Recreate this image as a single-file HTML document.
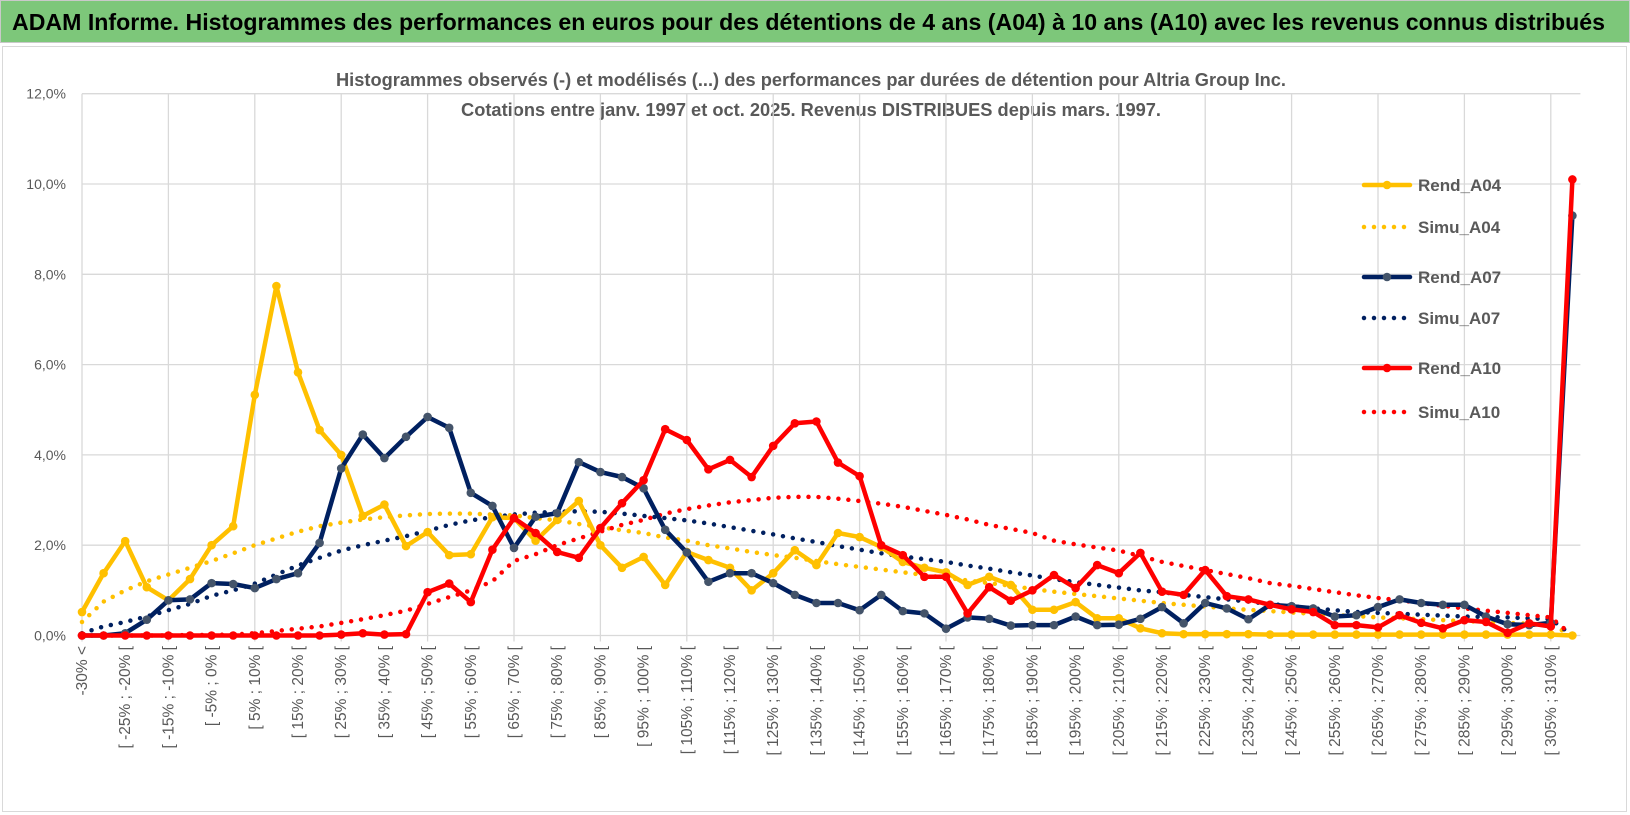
<!DOCTYPE html>
<html><head><meta charset="utf-8"><style>
html,body{margin:0;padding:0;background:#fff;}
svg{display:block;font-family:"Liberation Sans",sans-serif;}
</style></head><body>
<svg id="chart" width="1630" height="815" viewBox="0 0 1630 815">
<rect x="0" y="0" width="1630" height="815" fill="#fff"/>
<rect x="0.5" y="0.5" width="1629" height="42" fill="#7DC77A" stroke="#c9c9c9"/>
<text x="12" y="30" font-size="23" font-weight="bold" fill="#000" textLength="1593" lengthAdjust="spacingAndGlyphs">ADAM Informe. Histogrammes des performances en euros pour des détentions de 4 ans (A04) à 10 ans (A10) avec les revenus connus distribués</text>
<rect x="2.5" y="46.5" width="1624" height="765" fill="none" stroke="#d9d9d9"/>
<text x="811" y="86" font-size="18" font-weight="bold" fill="#595959" text-anchor="middle" textLength="950" lengthAdjust="spacingAndGlyphs">Histogrammes observés (-) et modélisés (...) des performances par durées de détention pour Altria Group Inc.</text>
<text x="811" y="116" font-size="18" font-weight="bold" fill="#595959" text-anchor="middle" textLength="700" lengthAdjust="spacingAndGlyphs">Cotations entre janv. 1997 et oct. 2025.  Revenus DISTRIBUES depuis mars. 1997.</text>
<g id="grid"></g><g id="yaxis"></g><g id="xaxis"></g><g id="series"></g><g id="legend"></g>
</svg>
<script>
const yTicks=[0,2,4,6,8,10,12];
const yTickLabels=["0,0%","2,0%","4,0%","6,0%","8,0%","10,0%","12,0%"];
const categories=["-30% <"];
for(let a=-30;a<=310;a+=5){categories.push("[ "+a+"% ; "+(a+5)+"% [");}
categories[69]="> 310%";
const rendA04=[0.52,1.38,2.09,1.07,0.78,1.25,2.0,2.42,5.33,7.74,5.83,4.55,4.0,2.65,2.9,1.98,2.29,1.78,1.8,2.62,2.6,2.1,2.56,2.98,2.0,1.5,1.74,1.12,1.85,1.67,1.5,1.0,1.38,1.89,1.56,2.27,2.18,1.96,1.63,1.5,1.4,1.12,1.3,1.12,0.57,0.57,0.74,0.38,0.38,0.16,0.05,0.03,0.03,0.03,0.03,0.02,0.02,0.02,0.02,0.02,0.02,0.02,0.02,0.02,0.02,0.02,0.02,0.02,0.02,0];
const simuA04=[0.3,0.75,1.0,1.2,1.35,1.5,1.65,1.82,2.0,2.15,2.3,2.42,2.5,2.57,2.62,2.66,2.69,2.7,2.7,2.68,2.66,2.6,2.55,2.47,2.4,2.33,2.27,2.17,2.1,2.0,1.93,1.85,1.78,1.72,1.65,1.58,1.52,1.46,1.4,1.34,1.28,1.22,1.16,1.1,1.03,0.97,0.92,0.87,0.82,0.77,0.72,0.68,0.64,0.6,0.57,0.54,0.51,0.48,0.45,0.43,0.4,0.38,0.36,0.34,0.32,0.3,0.28,0.26,0.24,0];
const rendA07=[0,0,0.05,0.35,0.78,0.8,1.16,1.14,1.05,1.25,1.38,2.05,3.7,4.45,3.93,4.4,4.84,4.6,3.16,2.87,1.94,2.63,2.71,3.84,3.62,3.51,3.26,2.34,1.84,1.19,1.38,1.38,1.16,0.9,0.72,0.72,0.56,0.9,0.54,0.49,0.15,0.4,0.37,0.22,0.23,0.23,0.42,0.23,0.24,0.37,0.63,0.27,0.72,0.6,0.36,0.68,0.65,0.6,0.42,0.45,0.63,0.8,0.72,0.68,0.68,0.42,0.25,0.23,0.28,9.3];
const simuA07=[0.05,0.2,0.3,0.42,0.56,0.7,0.88,1.0,1.15,1.35,1.55,1.72,1.88,2.0,2.1,2.2,2.32,2.45,2.55,2.62,2.68,2.72,2.74,2.75,2.74,2.7,2.65,2.6,2.55,2.48,2.4,2.32,2.24,2.15,2.07,1.98,1.9,1.82,1.75,1.69,1.63,1.55,1.48,1.4,1.33,1.25,1.18,1.12,1.06,1.0,0.96,0.9,0.85,0.8,0.75,0.7,0.65,0.6,0.56,0.52,0.5,0.48,0.46,0.44,0.42,0.41,0.4,0.38,0.36,0];
const rendA10=[0,0,0,0,0,0,0,0,0,0,0,0,0.02,0.05,0.02,0.03,0.96,1.15,0.74,1.9,2.6,2.27,1.85,1.72,2.38,2.93,3.44,4.57,4.33,3.68,3.89,3.51,4.2,4.7,4.74,3.83,3.53,2.0,1.78,1.3,1.3,0.49,1.07,0.77,1.0,1.34,1.05,1.56,1.38,1.83,0.97,0.9,1.45,0.87,0.8,0.68,0.58,0.52,0.23,0.23,0.18,0.45,0.28,0.16,0.34,0.3,0.06,0.27,0.2,10.1];
const simuA10=[0,0,0,0,0,0.01,0.01,0.02,0.05,0.1,0.15,0.2,0.28,0.36,0.45,0.55,0.7,0.85,1.0,1.2,1.65,1.8,2.0,2.15,2.3,2.45,2.56,2.7,2.8,2.88,2.95,3.0,3.05,3.07,3.07,3.03,2.98,2.92,2.85,2.76,2.67,2.57,2.45,2.36,2.27,2.1,2.02,1.95,1.88,1.76,1.63,1.54,1.45,1.36,1.27,1.16,1.1,1.03,0.96,0.89,0.83,0.78,0.72,0.66,0.6,0.55,0.5,0.45,0.4,0];
const seriesNames=["Rend_A04","Simu_A04","Rend_A07","Simu_A07","Rend_A10","Simu_A10"];

const NS="http://www.w3.org/2000/svg";
const X0=82,DX=21.6,Y0=635.5,PPU=45.15;
function xs(i){return X0+i*DX;}
function ys(v){return Y0-v*PPU;}
function mk(tag,attrs,parent){const e=document.createElementNS(NS,tag);for(const k in attrs)e.setAttribute(k,attrs[k]);parent.appendChild(e);return e;}
const grid=document.getElementById('grid'),yax=document.getElementById('yaxis'),xax=document.getElementById('xaxis'),ser=document.getElementById('series'),leg=document.getElementById('legend');
yTicks.forEach((t,k)=>{
  const l=mk('line',{x1:xs(0),x2:xs(69)+8,y1:ys(t),y2:ys(t),stroke:'#d9d9d9','stroke-width':1.3},grid);
  
  
  const tx=mk('text',{x:66,y:ys(t)+5,'font-size':14,fill:'#595959','text-anchor':'end'},yax);
  tx.textContent=yTickLabels[k];
  
  
});
for(let i=0;i<categories.length;i+=4){
  const l=mk('line',{x1:xs(i),x2:xs(i),y1:ys(12),y2:Y0+6,stroke:'#d9d9d9','stroke-width':1.3},grid);
  
  
}
for(let i=0;i<categories.length;i+=2){
  const x=xs(i)+5,y=646;
  const tx=mk('text',{x:x,y:y,'font-size':15.5,fill:'#595959','text-anchor':'end',transform:`rotate(-90 ${x} ${y})`},xax);
  tx.textContent=categories[i];
  
  
}
const styles=[
 {data:rendA04,color:'#FFC000',marker:'#FFC000',dot:false},
 {data:simuA04,color:'#FFC000',dot:true},
 {data:rendA07,color:'#002060',marker:'#44546A',dot:false},
 {data:simuA07,color:'#002060',dot:true},
 {data:rendA10,color:'#FF0000',marker:'#FF0000',dot:false},
 {data:simuA10,color:'#FF0000',dot:true}];
const order=[1,3,5,0,2,4];
order.forEach(s=>{
  const st=styles[s];
  const pts=st.data.map((v,i)=>xs(i).toFixed(1)+','+ys(v).toFixed(1)).join(' ');
  const g=mk('g',{},ser);
  
  
  const pl=mk('polyline',{points:pts,fill:'none',stroke:st.color,'stroke-width':st.dot?4.5:4.5,'stroke-linejoin':'round','stroke-linecap':'round','stroke-dasharray':st.dot?'0 10':'none'},g);
  
  
  if(!st.dot){st.data.forEach((v,i)=>{
    const c=mk('circle',{cx:xs(i),cy:ys(v),r:4.3,fill:st.marker},g);
    
    
  });}
});
const legY=[185,227,277,318,368,412];
seriesNames.forEach((n,k)=>{
  const st=styles[k];
  const g=mk('g',{},leg);
  
  
  mk('line',{x1:1364,x2:1410,y1:legY[k],y2:legY[k],stroke:st.color,'stroke-width':4.5,'stroke-linecap':'round','stroke-dasharray':st.dot?'0 10':'none'},g);
  if(!st.dot)mk('circle',{cx:1387,cy:legY[k],r:4.3,fill:st.marker},g);
  const tx=mk('text',{x:1418,y:legY[k]+6,'font-size':17,'font-weight':'bold',fill:'#595959'},g);
  tx.textContent=n;
});
</script>
</body></html>
